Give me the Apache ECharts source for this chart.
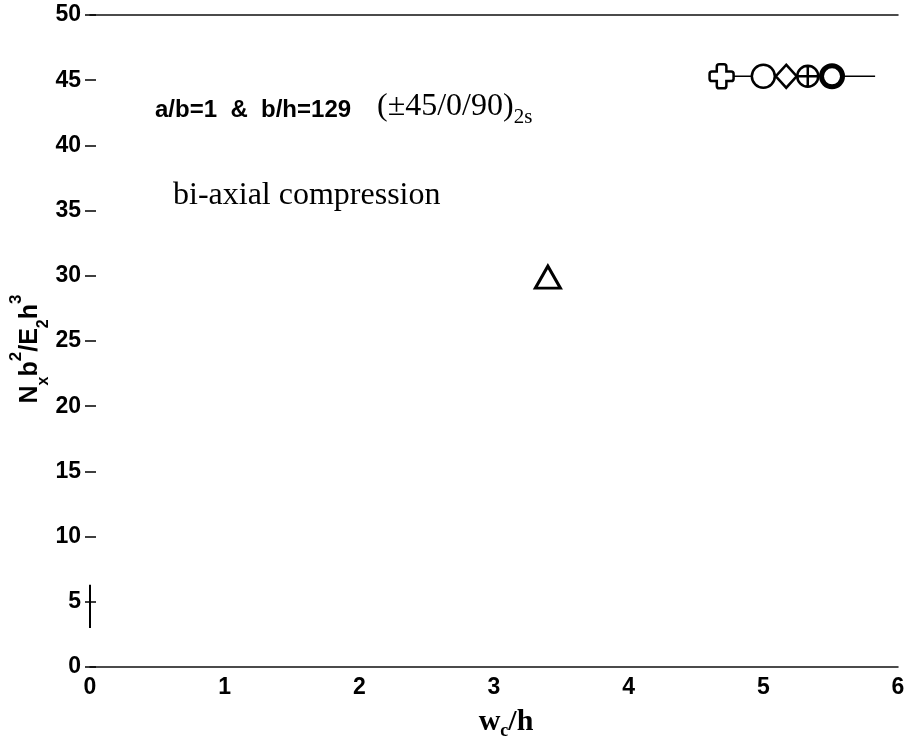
<!DOCTYPE html>
<html><head><meta charset="utf-8">
<script src="https://cdn.jsdelivr.net/npm/echarts@6/dist/echarts.min.js"></script>
<style>html,body{margin:0;padding:0;background:#fff}#c{width:910px;height:740px}</style>
</head><body><div id="c"></div>
<script>
// axis ranges and tick steps
const xRange = [0, 6];
const yRange = [0, 50];
const xStep = 1;
const yStep = 5;

// data points
const connectLine = [[4.69, 45.3], [5.83, 45.3]];
const crossPt = [[4.69, 45.3]];
const circlePt = [[5.0, 45.3]];
const diamondPt = [[5.17, 45.3]];
const circlePlusPt = [[5.33, 45.3]];
const boldCirclePt = [[5.51, 45.3]];
const trianglePt = [[3.40, 29.9]];
const leftSegment = [[0, 3.0], [0, 6.3]];

// texts
const xName = '{m|w}{s|c}{m|/h}';
const yName = '{n|N}{sb|x}{n|b}{sp|2}{n|/E}{sb|2}{n|h}{sp|3}';
const note1 = 'a/b=1  &  b/h=129';
const note2Main = '(±45/0/90)';
const note2Sub = '2s';
const note3 = 'bi-axial compression';

const SANS = '"Liberation Sans", Arial, sans-serif';
const SERIF = '"Liberation Serif", "Times New Roman", serif';

const plusPath = 'path://M6,2 Q6,0 8,0 L12,0 Q14,0 14,2 L14,6 L18,6 Q20,6 20,8 L20,12 Q20,14 18,14 L14,14 L14,18 Q14,20 12,20 L8,20 Q6,20 6,18 L6,14 L2,14 Q0,14 0,12 L0,8 Q0,6 2,6 L6,6 Z';
const circlePlusPath = 'path://M0,10 A10,10 0 1 1 20,10 A10,10 0 1 1 0,10 Z M10,0 L10,20 M0,10 L20,10';

const chart = echarts.init(document.getElementById('c'), null, {renderer: 'canvas'});

function scatter(data, symbol, size, bw) {
  return {
    type: 'scatter', data: data, symbol: symbol, symbolSize: size, symbolKeepAspect: false,
    itemStyle: {color: '#fff', borderColor: '#000', borderWidth: bw, opacity: 1},
    z: 5, silent: true, animation: false
  };
}

chart.setOption({
  animation: false,
  backgroundColor: '#fff',
  grid: {left: 90, right: 12, top: 15, bottom: 73, containLabel: false, outerBoundsMode: 'none'},
  xAxis: [{
    type: 'value', min: xRange[0], max: xRange[1], interval: xStep, position: 'bottom',
    axisLine: {show: true, lineStyle: {color: '#111', width: 1.5}},
    axisTick: {show: false},
    splitLine: {show: false},
    axisLabel: {color: '#000', fontFamily: SANS, fontWeight: 'bold', fontSize: 23, margin: 9},
    name: xName, nameLocation: 'middle', nameGap: 37, nameMoveOverlap: false,
    nameTextStyle: {
      padding: [0, 0, 0, 24],
      rich: {
        m: {fontFamily: SERIF, fontWeight: 'bold', fontSize: 30, color: '#000', lineHeight: 36, verticalAlign: 'middle'},
        s: {fontFamily: SERIF, fontWeight: 'bold', fontSize: 18, color: '#000', lineHeight: 18, verticalAlign: 'bottom'}
      }
    }
  }, {
    type: 'value', min: xRange[0], max: xRange[1], interval: xStep, position: 'top',
    axisLine: {show: true, onZero: false, lineStyle: {color: '#111', width: 1.5}},
    axisTick: {show: false}, axisLabel: {show: false}, splitLine: {show: false}
  }],
  yAxis: [{
    type: 'value', min: yRange[0], max: yRange[1], interval: yStep, position: 'left',
    axisLine: {show: false},
    axisTick: {show: true, inside: true, length: 6, lineStyle: {color: '#000', width: 1.5}},
    splitLine: {show: false},
    axisLabel: {color: '#000', fontFamily: SANS, fontWeight: 'bold', fontSize: 23, margin: 9},
    name: yName, nameLocation: 'middle', nameGap: 38, nameRotate: 90, nameMoveOverlap: false,
    nameTextStyle: {
      padding: [0, 16, 0, 0],
      rich: {
        n: {fontFamily: SANS, fontWeight: 'bold', fontSize: 25, color: '#000', lineHeight: 44, verticalAlign: 'middle'},
        sp: {fontFamily: SANS, fontWeight: 'bold', fontSize: 17, color: '#000', lineHeight: 26, verticalAlign: 'top'},
        sb: {fontFamily: SANS, fontWeight: 'bold', fontSize: 16, color: '#000', lineHeight: 16, verticalAlign: 'bottom'}
      }
    }
  }, {
    type: 'value', min: yRange[0], max: yRange[1], interval: yStep, position: 'right',
    axisLine: {show: false},
    axisTick: {show: true, inside: true, length: 5, lineStyle: {color: '#000', width: 1.5}},
    axisLabel: {show: false}, splitLine: {show: false}
  }],
  series: [
    {type: 'line', data: connectLine, showSymbol: false, symbol: 'none',
     lineStyle: {color: '#000', width: 1.5}, z: 2, silent: true},
    {type: 'line', data: leftSegment, showSymbol: false, symbol: 'none',
     lineStyle: {color: '#000', width: 2}, z: 2, silent: true},
    scatter(crossPt, plusPath, 24, 2.5),
    scatter(circlePt, 'circle', 23, 2.5),
    scatter(diamondPt, 'diamond', [21, 23], 2.5),
    scatter(circlePlusPt, circlePlusPath, 21, 2.5),
    scatter(boldCirclePt, 'circle', 21, 5),
    scatter(trianglePt, 'triangle', [25, 22], 3)
  ],
  graphic: [
    {type: 'text', x: 155, y: 110, silent: true,
     style: {text: note1, fill: '#000', font: 'bold 24px ' + SANS, verticalAlign: 'middle'}},
    {type: 'text', x: 377, y: 107, silent: true,
     style: {text: '{m|' + note2Main + '}{s|' + note2Sub + '}', verticalAlign: 'middle',
       rich: {
         m: {fontFamily: SERIF, fontSize: 32, fill: '#000', lineHeight: 42, verticalAlign: 'middle'},
         s: {fontFamily: SERIF, fontSize: 21, fill: '#000', lineHeight: 21, verticalAlign: 'bottom'}
       }}},
    {type: 'text', x: 173, y: 196, silent: true,
     style: {text: note3, fill: '#000', font: '32px ' + SERIF, verticalAlign: 'middle'}}
  ]
});
</script></body></html>
